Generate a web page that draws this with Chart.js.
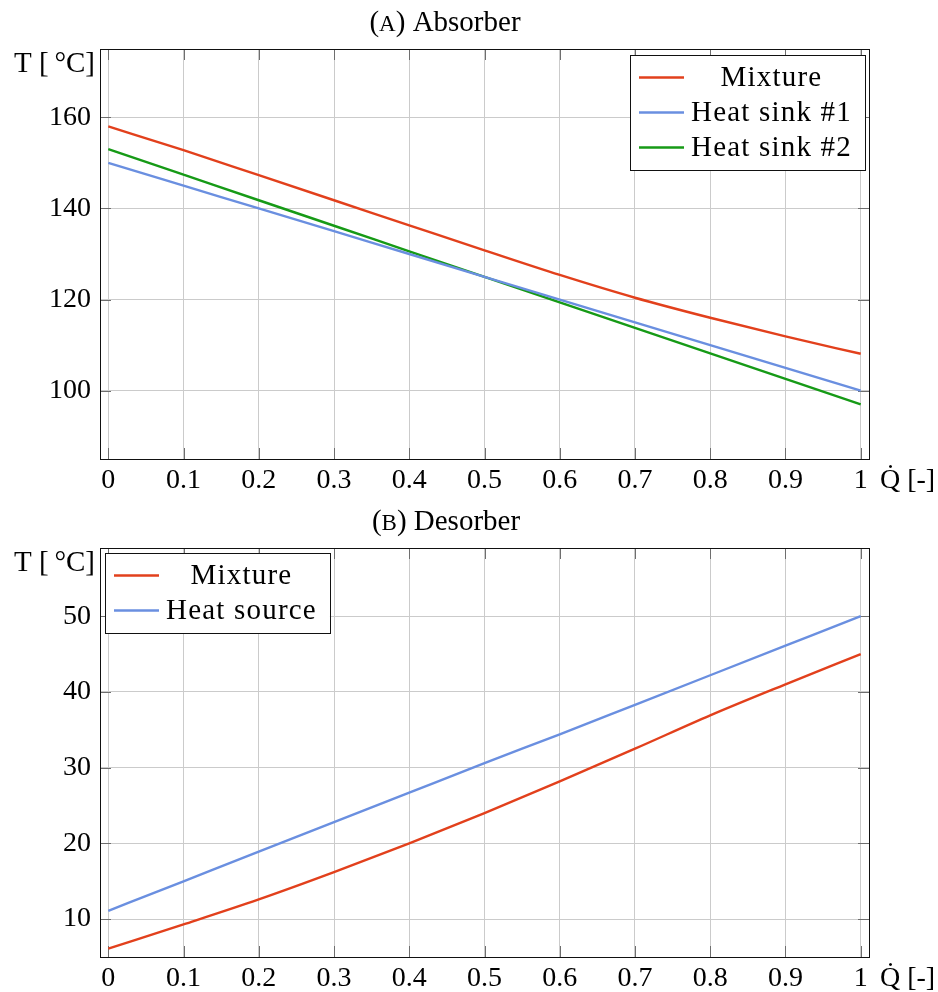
<!DOCTYPE html>
<html>
<head>
<meta charset="utf-8">
<script src="https://cdn.jsdelivr.net/npm/chart.js@4.4.1/dist/chart.umd.min.js"></script>
<style>
  body { margin: 0; background: #fff; }
  .wrap { position: relative; width: 938px; height: 496px; }
</style>
</head>
<body>
<div class="wrap"><canvas id="absorberChart"></canvas></div>
<div class="wrap"><canvas id="desorberChart"></canvas></div>
<script>
// x values (heat duty fraction)
const qValues = [0, 0.1, 0.2, 0.3, 0.4, 0.5, 0.6, 0.7, 0.8, 0.9, 1];
const xTicks = [0, 0.1, 0.2, 0.3, 0.4, 0.5, 0.6, 0.7, 0.8, 0.9, 1];

// (a) absorber
const absMixture = [158.0, 152.8, 147.3, 141.8, 136.3, 130.8, 125.4, 120.4, 116.0, 111.9, 108.1];
const absSink1 = [150, 145, 140, 135, 130, 125, 120, 115, 110, 105, 100];
const absSink2 = [153, 147.4, 141.8, 136.2, 130.6, 125, 119.4, 113.8, 108.2, 102.6, 97];
const absYTicks = [100, 120, 140, 160];

// (b) desorber
const desMixture = [6.1, 9.3, 12.6, 16.2, 20.0, 24.0, 28.2, 32.5, 36.9, 41.0, 45.0];
const desSource = [11.1, 15.0, 18.9, 22.8, 26.7, 30.6, 34.4, 38.3, 42.2, 46.1, 50.0];
const desYTicks = [10, 20, 30, 40, 50];

const FONT = "'Liberation Serif', 'Times New Roman', serif";
const RED = '#e2401c';
const BLUE = '#6a8fe0';
const GREEN = '#169a16';

function toPoints(ys) {
  return ys.map((y, i) => ({ x: qValues[i], y }));
}

// draws the pgfplots-like frame, inner ticks, axis labels, title and legend
const pgfFrame = {
  id: 'pgfFrame',
  beforeDatasetsDraw(chart) {
    const { ctx, chartArea: a, scales } = chart;
    ctx.save();
    ctx.strokeStyle = '#6e6e6e';
    ctx.lineWidth = 1;
    ctx.beginPath();
    scales.x.ticks.forEach(t => {
      const px = Math.round(scales.x.getPixelForValue(t.value)) + 0.5;
      ctx.moveTo(px, a.bottom); ctx.lineTo(px, a.bottom - 11);
      ctx.moveTo(px, a.top); ctx.lineTo(px, a.top + 11);
    });
    scales.y.ticks.forEach(t => {
      const py = Math.round(scales.y.getPixelForValue(t.value)) + 0.5;
      ctx.moveTo(a.left, py); ctx.lineTo(a.left + 11, py);
      ctx.moveTo(a.right, py); ctx.lineTo(a.right - 11, py);
    });
    ctx.stroke();
    ctx.restore();
  },
  afterDraw(chart, args, opts) {
    const { ctx, chartArea: a } = chart;
    ctx.save();

    // frame
    ctx.strokeStyle = '#111';
    ctx.lineWidth = 1;
    ctx.strokeRect(Math.round(a.left) + 0.5, Math.round(a.top) + 0.5,
      Math.round(a.right - a.left), Math.round(a.bottom - a.top));

    ctx.fillStyle = '#000';

    // y label
    ctx.font = '29px ' + FONT;
    ctx.textAlign = 'right';
    ctx.textBaseline = 'middle';
    ctx.fillText('T [\u2009°C]', a.left - 5, a.top + 15);

    // x label
    ctx.font = '28px ' + FONT;
    ctx.textAlign = 'left';
    ctx.textBaseline = 'alphabetic';
    ctx.fillText('Q\u0307 [-]', a.right + 11, a.bottom + 29);

    // title with small caps letter
    const big = '29px ' + FONT, small = '23px ' + FONT;
    ctx.font = big;
    const wOpen = ctx.measureText('(').width;
    const wClose = ctx.measureText(') ' + opts.title).width;
    ctx.font = small;
    const wLetter = ctx.measureText(opts.letter).width;
    let tx = opts.titleX - (wOpen + wLetter + wClose) / 2;
    ctx.font = big;
    ctx.fillText('(', tx, opts.titleY);
    tx += wOpen;
    ctx.font = small;
    ctx.fillText(opts.letter, tx, opts.titleY);
    tx += wLetter;
    ctx.font = big;
    ctx.fillText(') ' + opts.title, tx, opts.titleY);

    // legend
    const sets = chart.data.datasets;
    ctx.font = '29px ' + FONT;
    ctx.letterSpacing = '1.2px';
    const maxW = Math.max(...sets.map(d => ctx.measureText(d.label).width));
    const boxW = 9 + 45 + 7 + maxW + 13;
    const boxH = sets.length * 35 + 10;
    const bx = opts.corner === 'ne' ? a.right - opts.inset[0] - boxW : a.left + opts.inset[0];
    const by = a.top + opts.inset[1];
    ctx.fillStyle = '#fff';
    ctx.fillRect(bx, by, boxW, boxH);
    ctx.strokeStyle = '#111';
    ctx.strokeRect(Math.round(bx) + 0.5, Math.round(by) + 0.5, Math.round(boxW), Math.round(boxH));
    ctx.textAlign = 'center';
    ctx.textBaseline = 'middle';
    sets.forEach((d, i) => {
      const cy = by + 5 + 17.5 + i * 35;
      ctx.strokeStyle = d.borderColor;
      ctx.lineWidth = 2.4;
      ctx.beginPath();
      ctx.moveTo(bx + 9, cy);
      ctx.lineTo(bx + 54, cy);
      ctx.stroke();
      ctx.fillStyle = '#000';
      ctx.fillText(d.label, bx + 61 + maxW / 2, cy + 1);
    });
    ctx.restore();
  }
};

function makeChart(id, datasets, yMin, yMax, yTicks, padTop, xHeight, frameOpts) {
  const ctx = document.getElementById(id).getContext('2d');
  return new Chart(ctx, {
    type: 'line',
    data: { datasets },
    options: {
      responsive: true,
      maintainAspectRatio: false,
      animation: false,
      layout: { padding: { left: 40, right: 69, top: padTop, bottom: 0 } },
      elements: { point: { radius: 0 }, line: { borderWidth: 2.4, cubicInterpolationMode: 'monotone' } },
      plugins: {
        legend: { display: false },
        tooltip: { enabled: false },
        pgfFrame: frameOpts
      },
      scales: {
        x: {
          type: 'linear',
          min: -0.011,
          max: 1.011,
          afterBuildTicks: s => { s.ticks = xTicks.map(v => ({ value: v })); },
          afterFit: s => { s.height = xHeight; },
          grid: { color: '#cbcbcb', drawTicks: false },
          border: { display: false },
          ticks: {
            color: '#000',
            font: { family: FONT, size: 28 },
            padding: 5,
            autoSkip: false,
            maxRotation: 0,
            callback: v => String(v)
          }
        },
        y: {
          min: yMin,
          max: yMax,
          afterBuildTicks: s => { s.ticks = yTicks.map(v => ({ value: v })); },
          afterFit: s => { s.width = 60; },
          grid: { color: '#cbcbcb', drawTicks: false },
          border: { display: false },
          ticks: {
            color: '#000',
            font: { family: FONT, size: 28 },
            padding: 9,
            callback: v => String(v)
          }
        }
      }
    },
    plugins: [pgfFrame]
  });
}

const absorberChart = makeChart('absorberChart', [
  { label: 'Mixture', data: toPoints(absMixture), borderColor: RED },
  { label: 'Heat sink #1', data: toPoints(absSink1), borderColor: BLUE },
  { label: 'Heat sink #2', data: toPoints(absSink2), borderColor: GREEN }
], 85, 175, absYTicks, 49, 37,
  { letter: 'A', title: 'Absorber', titleX: 445, titleY: 31, corner: 'ne', inset: [4, 6] });

const desorberChart = makeChart('desorberChart', [
  { label: 'Mixture', data: toPoints(desMixture), borderColor: RED },
  { label: 'Heat source', data: toPoints(desSource), borderColor: BLUE }
], 5, 59, desYTicks, 52, 35,
  { letter: 'B', title: 'Desorber', titleX: 446, titleY: 34, corner: 'nw', inset: [5, 5] });
</script>
</body>
</html>
